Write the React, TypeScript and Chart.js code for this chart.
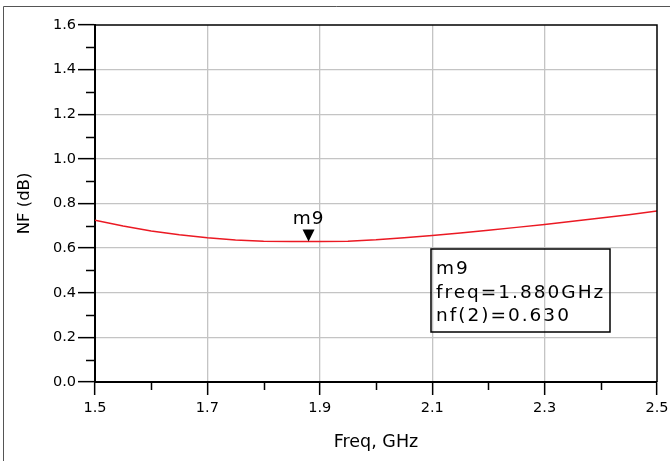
import React, { useEffect, useRef } from 'react';
import { Chart, registerables } from 'chart.js';
Chart.register(...registerables);

// ---- data ----
const freqGHz = [1.50, 1.55, 1.60, 1.65, 1.70, 1.75, 1.80, 1.85, 1.88, 1.90, 1.95, 2.00, 2.05, 2.10, 2.15, 2.20, 2.25, 2.30, 2.35, 2.40, 2.45, 2.50];
const nfDb = [0.725, 0.699, 0.677, 0.660, 0.646, 0.636, 0.631, 0.630, 0.630, 0.630, 0.631, 0.637, 0.647, 0.657, 0.668, 0.680, 0.693, 0.706, 0.720, 0.735, 0.750, 0.766];
const xTickLabels = ['1.5', '1.7', '1.9', '2.1', '2.3', '2.5'];
const yTickLabels = ['0.0', '0.2', '0.4', '0.6', '0.8', '1.0', '1.2', '1.4', '1.6'];
const markerName = 'm9';
const markerFreq = 1.88;
const markerNf = 0.63;
const markerInfo = ['m9', 'freq=1.880GHz', 'nf(2)=0.630'];
const xTitle = 'Freq, GHz';
const yTitle = 'NF (dB)';

const FONT = '"DejaVu Sans", sans-serif';

const decorPlugin = {
  id: 'decor',
  beforeDraw(chart: any) {
    const ctx = chart.ctx;
    ctx.save();
    ctx.fillStyle = '#fff';
    ctx.fillRect(0, 0, chart.width, chart.height);
    ctx.strokeStyle = '#555';
    ctx.lineWidth = 1;
    ctx.beginPath();
    ctx.moveTo(3.5, chart.height);
    ctx.lineTo(3.5, 6.5);
    ctx.lineTo(chart.width, 6.5);
    ctx.stroke();
    ctx.restore();
  },
  afterDatasetsDraw(chart: any) {
    const ctx = chart.ctx;
    const { left, right, top, bottom } = chart.chartArea;
    const xs = chart.scales.x;
    const ys = chart.scales.y;
    ctx.save();
    // top/right border
    ctx.strokeStyle = '#000';
    ctx.lineWidth = 1.5;
    ctx.beginPath();
    ctx.moveTo(left, top);
    ctx.lineTo(right, top);
    ctx.lineTo(right, bottom);
    ctx.stroke();
    // minor ticks
    ctx.lineWidth = 1.5;
    ctx.beginPath();
    ys.ticks.forEach((t: any, i: number) => {
      if (i % 2 === 1) {
        const y = Math.round(ys.getPixelForValue(t.value)) + 0.5;
        ctx.moveTo(left - 9, y);
        ctx.lineTo(left, y);
      }
    });
    xs.ticks.forEach((t: any, i: number) => {
      if (i % 2 === 1) {
        const x = Math.round(xs.getPixelForValue(t.value)) + 0.5;
        ctx.moveTo(x, bottom);
        ctx.lineTo(x, bottom + 8);
      }
    });
    ctx.stroke();
    // marker
    const mx = xs.getPixelForValue(markerFreq);
    const my = ys.getPixelForValue(markerNf);
    ctx.fillStyle = '#000';
    ctx.beginPath();
    ctx.moveTo(mx, my);
    ctx.lineTo(mx - 6, my - 12);
    ctx.lineTo(mx + 6, my - 12);
    ctx.closePath();
    ctx.fill();
    ctx.font = '18.5px ' + FONT;
    (ctx as any).letterSpacing = '1px';
    ctx.textAlign = 'center';
    ctx.textBaseline = 'alphabetic';
    ctx.fillText(markerName, mx, my - 17);
    // info box
    const bx = left + 336;
    const by = top + 224;
    const bw = 179;
    const bh = 83;
    ctx.strokeStyle = '#000';
    ctx.lineWidth = 1.5;
    ctx.strokeRect(bx, by, bw, bh);
    ctx.textAlign = 'left';
    (ctx as any).letterSpacing = '2px';
    markerInfo.forEach((s, i) => {
      ctx.fillText(s, bx + 5, by + 25 + i * 23.7);
    });
    ctx.restore();
  },
};

export default function App() {
  const ref = useRef<HTMLCanvasElement>(null);
  useEffect(() => {
    if (!ref.current) return;
    const chart = new Chart(ref.current, {
      type: 'scatter',
      data: {
        datasets: [
          {
            data: freqGHz.map((f, i) => ({ x: f, y: nfDb[i] })),
            showLine: true,
            borderColor: 'rgb(235,25,35)',
            borderWidth: 1.5,
            pointRadius: 0,
            tension: 0,
          },
        ],
      },
      options: {
        animation: false,
        responsive: false,
        devicePixelRatio: 1,
        layout: { padding: { left: 15, right: 13, top: 25, bottom: 8 } },
        plugins: { legend: { display: false }, tooltip: { enabled: false } },
        scales: {
          x: {
            type: 'linear',
            min: 1.5,
            max: 2.5,
            afterFit: (s: any) => { s.height = 71; s.paddingLeft = 0; s.paddingRight = 0; },
            ticks: {
              stepSize: 0.1,
              autoSkip: false,
              maxRotation: 0,
              padding: 5,
              color: '#000',
              font: { family: FONT, size: 14.5 },
              callback: (_v: any, i: number) => (i % 2 === 0 ? xTickLabels[i / 2] : ''),
            },
            grid: {
              color: (c: any) => (c.index % 2 === 0 && c.index > 0 && c.index < 10 ? '#c4c4c4' : 'rgba(0,0,0,0)'),
              lineWidth: 1.3,
              tickLength: 13,
              tickColor: (c: any) => (c.index % 2 === 0 ? '#000' : 'rgba(0,0,0,0)'),
              tickWidth: 1.5,
            },
            border: { display: true, color: '#000', width: 2 },
            title: { display: true, text: xTitle, color: '#000', font: { family: FONT, size: 17.5 }, padding: 0 },
          },
          y: {
            type: 'linear',
            min: 0,
            max: 1.6,
            afterFit: (s: any) => { s.width = 80; s.paddingTop = 0; s.paddingBottom = 0; },
            ticks: {
              stepSize: 0.1,
              autoSkip: false,
              padding: 2,
              color: '#000',
              font: { family: FONT, size: 14.5 },
              callback: (_v: any, i: number) => (i % 2 === 0 ? yTickLabels[i / 2] : ''),
            },
            grid: {
              color: (c: any) => (c.index % 2 === 0 && c.index > 0 && c.index < 16 ? '#c4c4c4' : 'rgba(0,0,0,0)'),
              lineWidth: 1.3,
              tickLength: 17,
              tickColor: (c: any) => (c.index % 2 === 0 ? '#000' : 'rgba(0,0,0,0)'),
              tickWidth: 1.5,
            },
            border: { display: true, color: '#000', width: 2 },
            title: { display: true, text: yTitle, color: '#000', font: { family: FONT, size: 16.5 }, padding: 0 },
          },
        },
      },
      plugins: [decorPlugin],
    });
    return () => chart.destroy();
  }, []);
  return (
    <div style={{ position: 'fixed', left: 0, top: 0, width: 670, height: 461, background: '#fff' }}>
      <canvas ref={ref} width={670} height={461} style={{ display: 'block', width: 670, height: 461 }} />
    </div>
  );
}
